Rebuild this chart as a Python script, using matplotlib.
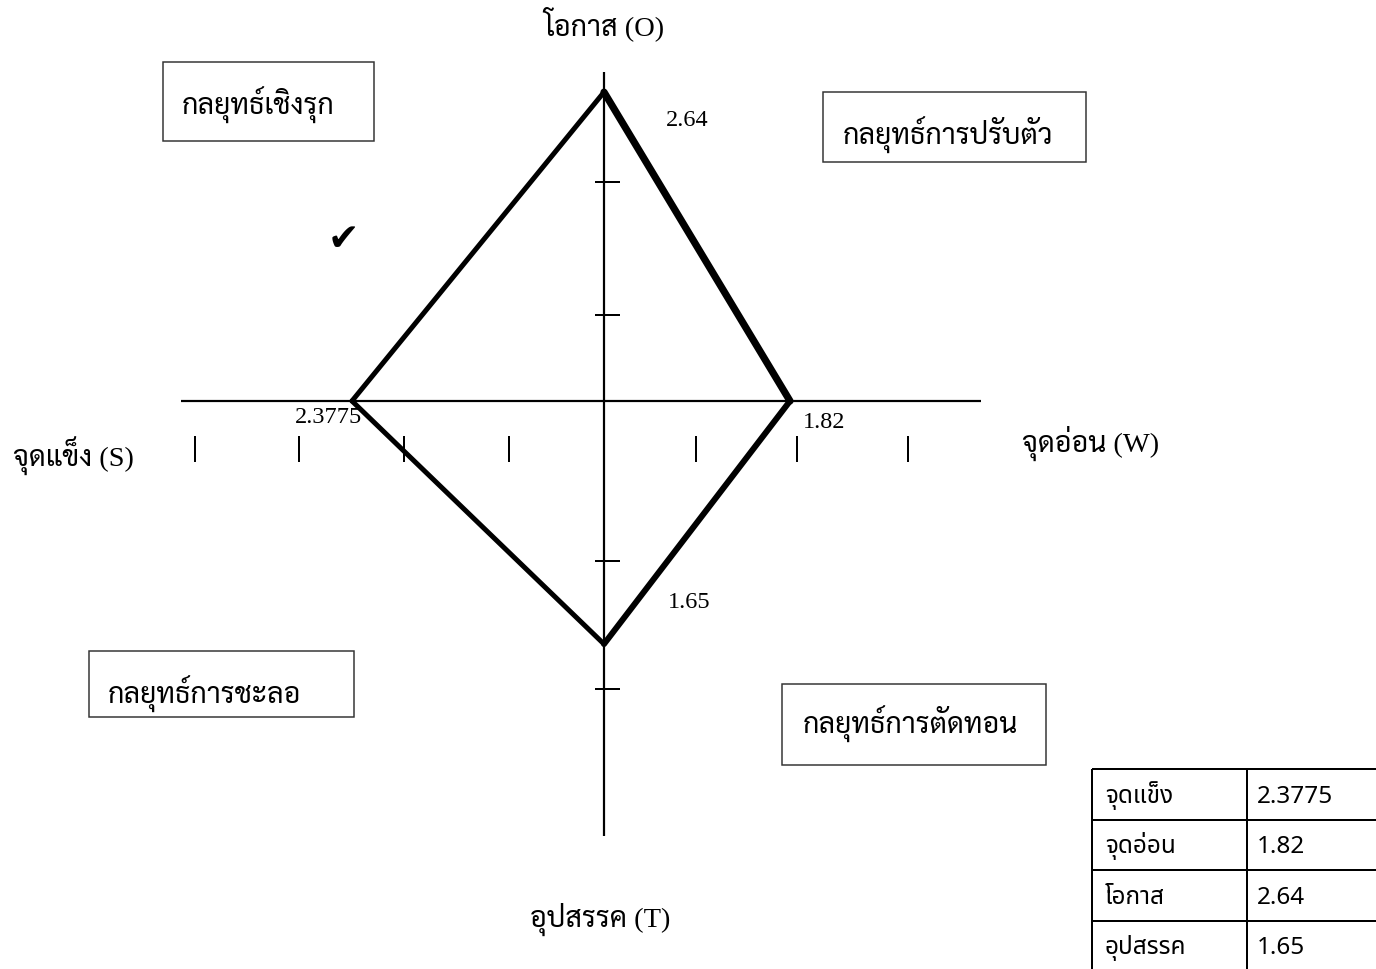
import matplotlib
matplotlib.use('Agg')
import matplotlib.pyplot as plt
from matplotlib.patches import Rectangle

# ---------------- data ----------------
categories = ['จุดแข็ง', 'จุดอ่อน', 'โอกาส', 'อุปสรรค']
values = [2.3775, 1.82, 2.64, 1.65]          # S, W, O, T
axis_labels = ['จุดแข็ง (S)', 'จุดอ่อน (W)', 'โอกาส (O)', 'อุปสรรค (T)']
strategies = ['กลยุทธ์เชิงรุก', 'กลยุทธ์การปรับตัว', 'กลยุทธ์การชะลอ', 'กลยุทธ์การตัดทอน']
selected_mark = '✔'

# ---------------- layout (pixel space) ----------------
W_PX, H_PX = 1376, 970
CX, CY = 604, 402                       # origin of the S-W / O-T cross
# pixels per unit for each half-axis (drawn by hand in the original)
UNIT = {'S': 106.0, 'W': 102.2, 'O': 117.0, 'T': 147.3}
SERIF = ['Liberation Serif', 'Sarabun', 'DejaVu Serif']
SANS_TH = ['Noto Sans Thai', 'Noto Sans', 'DejaVu Sans']
PT = 0.72  # points per pixel at dpi 100

S, Wk, O, T = values
pS = (CX - S * UNIT['S'], CY)
pW = (CX + Wk * UNIT['W'], CY)
pO = (CX, CY - O * UNIT['O'])
pT = (CX, CY + T * UNIT['T'])

fig = plt.figure(figsize=(W_PX / 100, H_PX / 100), dpi=100)
ax = fig.add_axes([0, 0, 1, 1])
ax.set_xlim(0, W_PX)
ax.set_ylim(H_PX, 0)
ax.axis('off')

# cross axes
ax.plot([181, 981], [CY, CY], color='black', lw=2.2 * PT, solid_capstyle='butt')
ax.plot([CX, CX], [73, 837], color='black', lw=2.2 * PT, solid_capstyle='butt')

# scale marks
for yt in [183, 316, 562, 690]:
    ax.plot([595, 620], [yt, yt], color='black', lw=2 * PT, solid_capstyle='butt')
for xt in [195, 299, 404, 509, 696, 797, 908]:
    ax.plot([xt, xt], [437, 463], color='black', lw=2 * PT, solid_capstyle='butt')

# diamond edges (different widths as in the original)
edges = [(pS, pO, 5.0), (pO, pW, 7.2), (pW, pT, 6.0), (pT, pS, 5.0)]
for a, b, w in edges:
    ax.plot([a[0], b[0]], [a[1], b[1]], color='black', lw=w * PT,
            solid_capstyle='round', zorder=3)

# value labels near vertices
def fmt(v):
    return f'{v:g}'
num_fs = 17.5
ax.text(pO[0] + 62, pO[1] + 33, fmt(O), family=SERIF, fontsize=num_fs, ha='left', va='baseline')
ax.text(pW[0] + 13, pW[1] + 26, fmt(Wk), family=SERIF, fontsize=num_fs, ha='left', va='baseline')
ax.text(pS[0] - 57, pS[1] + 21, fmt(S), family=SERIF, fontsize=num_fs, ha='left', va='baseline', zorder=2)
ax.text(pT[0] + 64, pT[1] - 37, fmt(T), family=SERIF, fontsize=num_fs, ha='left', va='baseline')

# axis labels
lab_fs = 20.5
ax.text(13, 467, axis_labels[0], family=SERIF, fontsize=lab_fs, ha='left', va='baseline')
ax.text(1022, 452, axis_labels[1], family=SERIF, fontsize=lab_fs, ha='left', va='baseline')
ax.text(CX, 35, axis_labels[2], family=SERIF, fontsize=lab_fs, ha='center', va='baseline')
ax.text(CX - 4, 927, axis_labels[3], family=SERIF, fontsize=lab_fs, ha='center', va='baseline')

# strategy boxes: (x0, y0, x1, y1, text_left, baseline)
boxes = [(163, 63, 374, 142, 182, 115),
         (823, 93, 1086, 163, 843, 145),
         (89, 652, 354, 718, 108, 704),
         (782, 685, 1046, 766, 803, 734)]
for (x0, y0, x1, y1, tx, ty), name in zip(boxes, strategies):
    ax.add_patch(Rectangle((x0, y0), x1 - x0, y1 - y0, fill=False,
                           edgecolor='#333333', lw=1.5 * PT))
    ax.text(tx, ty, name, family=SERIF, fontsize=lab_fs, ha='left', va='baseline')

# selected quadrant mark
ax.text(343, 240, selected_mark, family=['DejaVu Sans'],
        fontsize=27, ha='center', va='center')

# summary table
TX0, TX1, TX2 = 1092, 1247, 1400
TY0, ROW_H = 770, 50.5
n = len(categories)
for i in range(n + 1):
    if TY0 + i * ROW_H <= H_PX:
        ax.plot([TX0, TX2], [TY0 + i * ROW_H] * 2, color='black', lw=2 * PT,
                solid_capstyle='butt')
for xv in [TX0, TX1]:
    ax.plot([xv, xv], [TY0, TY0 + n * ROW_H], color='black', lw=2 * PT,
            solid_capstyle='butt')
tab_fs = 17.5
for i, (c, v) in enumerate(zip(categories, values)):
    base = TY0 + i * ROW_H + 33
    ax.text(TX0 + 13, base, c, family=SANS_TH, fontsize=tab_fs, ha='left', va='baseline')
    ax.text(TX1 + 10, base, fmt(v), family=SANS_TH, fontsize=tab_fs, ha='left', va='baseline')

fig.savefig('out.png', dpi=100)
